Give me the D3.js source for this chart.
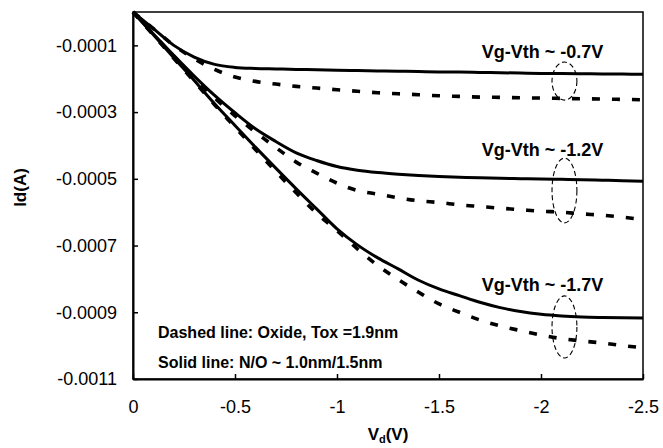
<!DOCTYPE html>
<html>
<head>
<meta charset="utf-8">
<script src="https://cdn.jsdelivr.net/npm/d3@7"></script>
<style>
    body { margin: 0; background: #fff; }
    svg { display: block; font-family: "Liberation Sans", Arial, Helvetica, sans-serif; }
    .axis path, .axis line { stroke: #000; }
    .axis text { font-size: 18px; fill: #000; }
</style>
</head>
<body>
<div id="chart"></div>
<script>
// drain voltage sweep (V)
var vd = [0, -0.1, -0.2, -0.3, -0.4, -0.5, -0.6, -0.7, -0.8, -0.9, -1.0, -1.1, -1.2,
          -1.3, -1.4, -1.5, -1.6, -1.7, -1.8, -1.9, -2.0, -2.1, -2.2, -2.3, -2.4, -2.5];

// drain current, units of 1e-4 A (sign applied below)
var solid07  = [0, 0.50, 1.00, 1.35, 1.57, 1.66, 1.69, 1.705, 1.72, 1.73, 1.745, 1.755, 1.765,
                1.775, 1.785, 1.795, 1.80, 1.81, 1.82, 1.83, 1.84, 1.845, 1.85, 1.855, 1.86, 1.865];
var dashed07 = [0, 0.50, 1.00, 1.40, 1.72, 1.95, 2.08, 2.16, 2.23, 2.28, 2.33, 2.375, 2.42,
                2.45, 2.48, 2.51, 2.53, 2.55, 2.56, 2.57, 2.58, 2.59, 2.60, 2.61, 2.62, 2.63];
var solid12  = [0, 0.66, 1.30, 1.92, 2.50, 3.02, 3.50, 3.88, 4.22, 4.45, 4.63, 4.74, 4.81,
                4.86, 4.90, 4.93, 4.95, 4.97, 4.985, 4.995, 5.005, 5.015, 5.025, 5.04, 5.055, 5.07];
var dashed12 = [0, 0.67, 1.33, 1.97, 2.57, 3.11, 3.60, 4.06, 4.50, 4.83, 5.13, 5.35, 5.46,
                5.57, 5.66, 5.71, 5.78, 5.83, 5.88, 5.925, 5.97, 6.00, 6.05, 6.09, 6.15, 6.22];
var solid17  = [0, 0.68, 1.37, 2.05, 2.75, 3.40, 4.05, 4.68, 5.30, 5.90, 6.50, 6.98, 7.37,
                7.70, 8.04, 8.30, 8.50, 8.70, 8.86, 8.98, 9.06, 9.11, 9.14, 9.155, 9.165, 9.17];
var dashed17 = [0, 0.69, 1.39, 2.08, 2.78, 3.45, 4.12, 4.78, 5.42, 6.03, 6.55, 7.10, 7.60,
                8.02, 8.40, 8.75, 9.00, 9.23, 9.41, 9.55, 9.68, 9.79, 9.86, 9.92, 10.00, 10.06];

var xTickValues = [0, -0.5, -1, -1.5, -2, -2.5];
var xTickLabels = ["0", "-0.5", "-1", "-1.5", "-2", "-2.5"];
var yTickValues = [-0.0001, -0.0003, -0.0005, -0.0007, -0.0009, -0.0011];
var yTickLabels = ["-0.0001", "-0.0003", "-0.0005", "-0.0007", "-0.0009", "-0.0011"];

// Vg-Vth labels: right end at vd, baseline at id (1e-4 A)
var labelText = ["Vg-Vth ~ -0.7V", "Vg-Vth ~ -1.2V", "Vg-Vth ~ -1.7V"];
var labelVd   = [-2.305, -2.305, -2.305];
var labelId   = [1.38, 4.32, 8.35];

// dashed ellipses grouping each solid/dashed pair
var ringVd  = [-2.054, -2.176];
var ringTop = [1.50, 4.38, 8.51];
var ringBot = [2.64, 6.32, 10.37];

var series = [
    { values: solid07,  dashed: false },
    { values: dashed07, dashed: true },
    { values: solid12,  dashed: false },
    { values: dashed12, dashed: true },
    { values: solid17,  dashed: false },
    { values: dashed17, dashed: true }
];

var IdChart = function(_parentElement) {
    var vis = this;
    vis.parentElement = _parentElement;
    vis.svgWidth = 663;
    vis.svgHeight = 448;
    vis.margin = { top: 12, right: 20, bottom: 69, left: 133 };
    vis.width = vis.svgWidth - vis.margin.left - vis.margin.right;
    vis.height = vis.svgHeight - vis.margin.top - vis.margin.bottom;
    vis.initVis();
};

IdChart.prototype.initVis = function() {
    var vis = this;

    vis.svg = d3.select("#" + vis.parentElement).append("svg")
        .attr("width", vis.svgWidth)
        .attr("height", vis.svgHeight)
        .append("g")
        .attr("transform", "translate(" + vis.margin.left + "," + vis.margin.top + ")");

    vis.x = d3.scaleLinear().domain([0, -2.5]).range([0, vis.width]);
    vis.y = d3.scaleLinear().domain([0, -0.0011]).range([0, vis.height]);

    // frame
    vis.svg.append("rect")
        .attr("x", 0).attr("y", 0)
        .attr("width", vis.width).attr("height", vis.height)
        .attr("fill", "none")
        .attr("stroke", "#000")
        .attr("stroke-width", 1.5);

    vis.xAxis = d3.axisBottom(vis.x)
        .tickValues(xTickValues)
        .tickFormat(function(d, i) { return xTickLabels[i]; })
        .tickSizeInner(-5)
        .tickSizeOuter(0)
        .tickPadding(21);

    vis.yAxis = d3.axisLeft(vis.y)
        .tickValues(yTickValues)
        .tickFormat(function(d, i) { return yTickLabels[i]; })
        .tickSizeInner(-5)
        .tickSizeOuter(0)
        .tickPadding(16);

    vis.svg.append("g")
        .attr("class", "x-axis axis")
        .attr("transform", "translate(0," + vis.height + ")")
        .call(vis.xAxis);

    vis.svg.append("g")
        .attr("class", "y-axis axis")
        .call(vis.yAxis);

    vis.svg.selectAll(".axis .domain").attr("stroke-width", 2);
    vis.svg.selectAll(".axis .tick line").attr("stroke-width", 1.5);

    // axis titles
    vis.svg.append("text")
        .attr("transform", "translate(" + (26 - vis.margin.left) + "," + (vis.height / 2 - 8) + ") rotate(-90)")
        .attr("text-anchor", "middle")
        .attr("font-size", "17px")
        .attr("font-weight", "bold")
        .text("Id(A)");

    var xTitle = vis.svg.append("text")
        .attr("x", vis.width / 2)
        .attr("y", vis.height + 61)
        .attr("text-anchor", "middle")
        .attr("font-size", "17px")
        .attr("font-weight", "bold");
    xTitle.append("tspan").text("V");
    xTitle.append("tspan").attr("font-size", "11px").attr("dy", 3).text("d");
    xTitle.append("tspan").attr("dy", -3).text("(V)");

    vis.updateVis();
};

IdChart.prototype.updateVis = function() {
    var vis = this;

    var line = d3.line()
        .x(function(d) { return vis.x(d.v); })
        .y(function(d) { return vis.y(d.i); })
        .curve(d3.curveMonotoneX);

    vis.svg.selectAll(".curve")
        .data(series)
        .enter()
        .append("path")
        .attr("class", "curve")
        .attr("fill", "none")
        .attr("stroke", "#000")
        .attr("stroke-width", function(d) { return d.dashed ? 3.6 : 3; })
        .attr("stroke-dasharray", function(d) { return d.dashed ? "8,12" : null; })
        .attr("d", function(d) {
            return line(d.values.map(function(v, k) { return { v: vd[k], i: -v * 1e-4 }; }));
        });

    // ellipses
    var cx = (vis.x(ringVd[0]) + vis.x(ringVd[1])) / 2;
    var rx = Math.abs(vis.x(ringVd[1]) - vis.x(ringVd[0])) / 2;
    vis.svg.selectAll(".ring")
        .data(ringTop)
        .enter()
        .append("ellipse")
        .attr("class", "ring")
        .attr("cx", cx)
        .attr("rx", rx)
        .attr("cy", function(d, k) { return (vis.y(-d * 1e-4) + vis.y(-ringBot[k] * 1e-4)) / 2; })
        .attr("ry", function(d, k) { return Math.abs(vis.y(-ringBot[k] * 1e-4) - vis.y(-d * 1e-4)) / 2; })
        .attr("fill", "none")
        .attr("stroke", "#000")
        .attr("stroke-width", 1.1)
        .attr("stroke-dasharray", "5,3");

    vis.svg.selectAll(".vlabel")
        .data(labelText)
        .enter()
        .append("text")
        .attr("class", "vlabel")
        .attr("x", function(d, k) { return vis.x(labelVd[k]); })
        .attr("y", function(d, k) { return vis.y(-labelId[k] * 1e-4); })
        .attr("text-anchor", "end")
        .attr("font-size", "18px")
        .attr("font-weight", "bold")
        .text(function(d) { return d; });

    // legend notes
    var notes = ["Dashed line: Oxide, Tox =1.9nm", "Solid line: N/O ~ 1.0nm/1.5nm"];
    vis.svg.selectAll(".note")
        .data(notes)
        .enter()
        .append("text")
        .attr("class", "note")
        .attr("x", 25)
        .attr("y", function(d, k) { return 326 + k * 30; })
        .attr("font-size", "16px")
        .attr("font-weight", "bold")
        .text(function(d) { return d; });
};

var chart = new IdChart("chart");
</script>
</body>
</html>
